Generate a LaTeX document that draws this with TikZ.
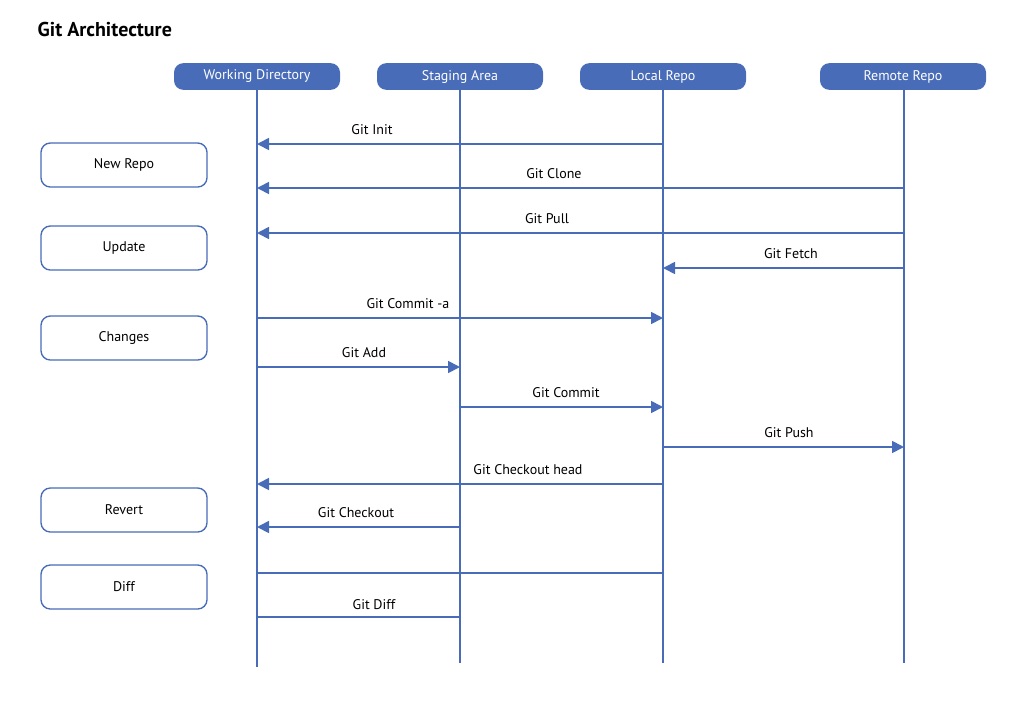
\documentclass[tikz,border=0pt]{standalone}
\usepackage{fontspec}
\setmainfont{PT Sans}
\usetikzlibrary{arrows.meta}
\definecolor{gitblue}{RGB}{72,108,184}
\tikzset{
  head/.style={rectangle, rounded corners=7pt, fill=gitblue, text=white, minimum width=124.5pt, minimum height=20pt, inner sep=0pt, font=\fontsize{10.5}{12}\selectfont},
  side/.style={rectangle, rounded corners=7pt, draw=gitblue, line width=1pt, fill=white, minimum width=124.5pt, minimum height=33pt, inner sep=0pt, font=\fontsize{10.5}{12}\selectfont},
  life/.style={draw=gitblue, line width=1.5pt},
  msg/.style={draw=gitblue, line width=1.3pt, -{Triangle[length=9pt,width=9pt]}},
  bare/.style={draw=gitblue, line width=1.3pt},
  lbl/.style={font=\fontsize{10.5}{12}\selectfont, inner sep=0pt}
}
\begin{document}
\begin{tikzpicture}[x=0.75pt,y=0.75pt,yscale=-1.,xscale=1.]
    \useasboundingbox (0,0) rectangle (1024,711);

    % Title
    \node[anchor=west, font=\fontsize{15}{18}\selectfont\bfseries] (title) at (33,29) {Git Architecture};

    % Lifelines
    \coordinate (wd-end) at (257,667);
    \coordinate (sa-end) at (460,663);
    \coordinate (lr-end) at (663,663);
    \coordinate (rr-end) at (904,663);
    \draw[life] (257,90) -- (wd-end);
    \draw[life] (460,90) -- (sa-end);
    \draw[life] (663,90) -- (lr-end);
    \draw[life] (904,90) -- (rr-end);

    % Header boxes
    \node[head] (wd) at (257,76.5) {Working Directory};
    \node[head] (sa) at (460,76.5) {Staging Area};
    \node[head] (lr) at (663,76.5) {Local Repo};
    \node[head] (rr) at (903,76.5) {Remote Repo};

    % Side boxes
    \node[side] (newrepo) at (124,165) {New Repo};
    \node[side] (update) at (124,248) {Update};
    \node[side] (changes) at (124,338) {Changes};
    \node[side] (revert) at (124,510) {Revert};
    \node[side] (diff) at (124,587) {Diff};

    % Messages
    \foreach \y/\from/\to/\lx/\txt in {
        144/663/257/372/Git Init,
        188/904/257/554/Git Clone,
        233/904/257/547/Git Pull,
        268/904/663/791/Git Fetch,
        318/257/663/408/Git Commit -a,
        367/257/460/364/Git Add,
        407/460/663/566/Git Commit,
        447/663/904/789/Git Push,
        484/663/257/528/Git Checkout head,
        527/460/257/356/Git Checkout}{
      \coordinate (m-s) at (\from,\y);
      \coordinate (m-e) at (\to,\y);
      \draw[msg] (m-s) -- (m-e);
      \node[lbl] (m-l) at (\lx,\y-14) {\txt};
    }

    % Diff lines
    \coordinate (d1-s) at (257,573);
    \coordinate (d1-e) at (663,573);
    \draw[bare] (d1-s) -- (d1-e);
    \coordinate (d2-s) at (257,617);
    \coordinate (d2-e) at (460,617);
    \draw[bare] (d2-s) -- (d2-e);
    \node[lbl] (gitdiff) at (374,605) {Git Diff};
\end{tikzpicture}
\end{document}
